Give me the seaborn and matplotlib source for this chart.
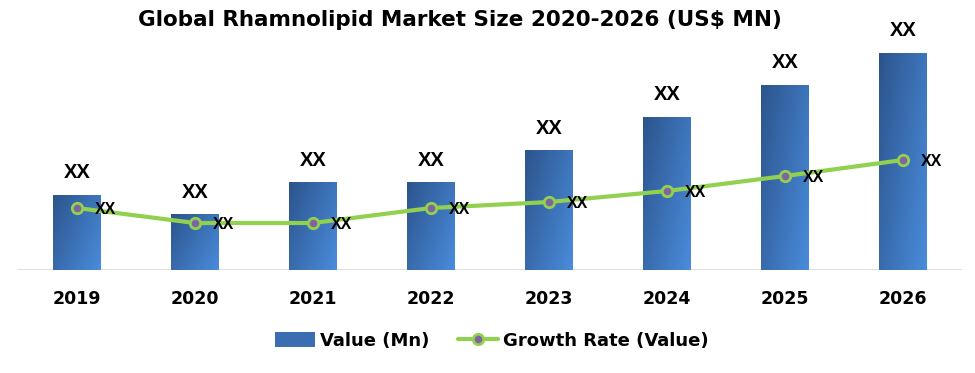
import numpy as np
import pandas as pd
import matplotlib
matplotlib.use("Agg")
import matplotlib.pyplot as plt
import seaborn as sns
from matplotlib.patches import Patch
from matplotlib.lines import Line2D
from matplotlib.font_manager import FontProperties

years = ["2019", "2020", "2021", "2022", "2023", "2024", "2025", "2026"]
values = [75, 56, 88, 88, 120, 153, 185, 217]
growth = [62, 47, 47, 62, 68, 79, 94, 110]
bar_labels = ["XX"] * len(years)
point_labels = ["XX"] * len(years)
title = "Global Rhamnolipid Market Size 2020-2026 (US$ MN)"
legend_labels = ["Value (Mn)", "Growth Rate (Value)"]

sns.set_style("white")
plt.rcParams['font.family'] = ['Liberation Sans', 'DejaVu Sans']
plt.rcParams['text.color'] = 'black'
plt.rcParams['xtick.color'] = 'black'

fig = plt.figure(figsize=(9.75, 3.73), dpi=100)
ax = fig.add_axes([18/975, (373-270)/373, (962-18)/975, 240/373])

df = pd.DataFrame({"year": years, "value": values, "growth": growth})
sns.barplot(data=df, x="year", y="value", ax=ax, width=0.4, color="#3A6EB0",
            saturation=1, zorder=2)

c1 = np.array([44, 84, 140]) / 255
c2 = np.array([74, 140, 220]) / 255
n = 100
xx, yy = np.meshgrid(np.linspace(0, 1, n), np.linspace(0, 1, n))
t = (0.6 * xx + 0.4 * yy)
grad = c1[None, None, :] * (1 - t[..., None]) + c2[None, None, :] * t[..., None]

container = ax.containers[0]
for p in container.patches:
    x0, y0 = p.get_x(), p.get_y()
    w, h = p.get_width(), p.get_height()
    p.set_facecolor("none")
    p.set_edgecolor("none")
    im = ax.imshow(grad, extent=[x0, x0 + w, y0, y0 + h], origin="upper",
                   aspect="auto", zorder=2, interpolation="bilinear")
    im.set_clip_path(p)

ax.bar_label(container, labels=bar_labels, padding=9, fontsize=14.5,
             fontweight="bold", color="black")

n_before = len(ax.lines)
sns.pointplot(data=df, x="year", y="growth", ax=ax, color="#92D050",
              markers="o", linestyles="-", linewidth=3, markersize=7.5,
              markeredgewidth=2, zorder=4)
for ln in ax.lines[n_before:]:
    ln.set_markerfacecolor("#8064A2")
    ln.set_markeredgecolor("#92D050")
    ln.set_markeredgewidth(2)
    ln.set_markersize(7.5)

for i, (lab, g) in enumerate(zip(point_labels, growth)):
    ax.annotate(lab, xy=(i, g), xytext=(12.5, -1), textcoords="offset points",
                fontsize=11.5, fontweight="bold", va="center", ha="left",
                color="black", zorder=5)

ax.axhline(0, color="#D9D9D9", linewidth=1.2, zorder=1)
ax.set_xlim(-0.5, 7.5)
ax.set_ylim(0, 240)
ax.set_xlabel("")
ax.set_ylabel("")
ax.set_yticks([])
for s in ax.spines.values():
    s.set_visible(False)
ax.tick_params(axis="x", length=0, pad=21, colors="black")
for lbl in ax.get_xticklabels():
    lbl.set_fontweight("bold")
    lbl.set_fontsize(12.5)
    lbl.set_fontfamily("DejaVu Sans")
    lbl.set_va("center")
    lbl.set_color("black")

title_fp = FontProperties(family="DejaVu Sans", weight="bold", size=15.5)
fig.text(460/975, 1 - 20/373, title, ha="center", va="center",
         fontproperties=title_fp, color="black")

handles = [Patch(facecolor="#3A6EB0", edgecolor="none"),
           Line2D([0], [0], color="#92D050", linewidth=3, marker="o",
                  markersize=7.5, markerfacecolor="#8064A2",
                  markeredgecolor="#92D050", markeredgewidth=2)]
leg = fig.legend(handles, legend_labels, loc="center", bbox_to_anchor=(492/975, 1 - 341/373),
                 ncol=2, frameon=False, handlelength=2.2, handletextpad=0.3,
                 columnspacing=1.6, handleheight=0.9,
                 prop={"family": "DejaVu Sans", "weight": "bold", "size": 13})
for txt in leg.get_texts():
    txt.set_color("black")

fig.savefig("out.png", dpi=100)
